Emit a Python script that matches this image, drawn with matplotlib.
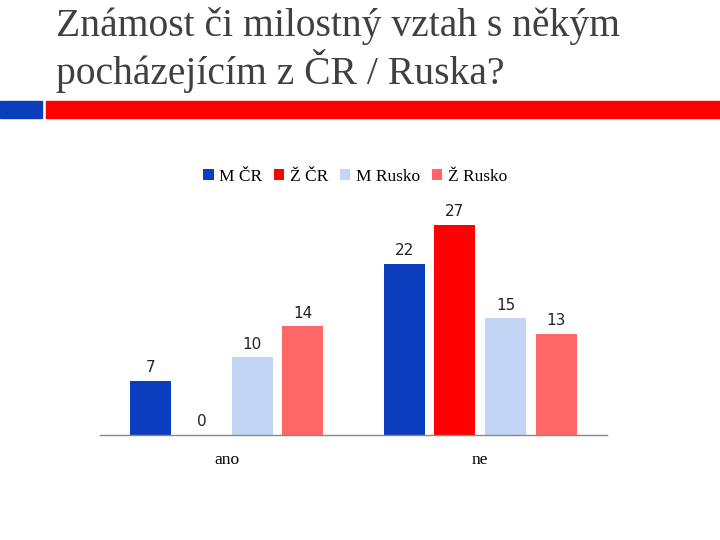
import numpy as np
import matplotlib
matplotlib.use("Agg")
import matplotlib.pyplot as plt
from matplotlib.patches import Rectangle

# data
categories = ["ano", "ne"]
series_names = ["M ČR", "Ž ČR", "M Rusko", "Ž Rusko"]
m_cr = [7, 22]
z_cr = [0, 27]
m_rusko = [10, 15]
z_rusko = [14, 13]
series_values = [m_cr, z_cr, m_rusko, z_rusko]
colors = ["#0B3EBF", "#FF0000", "#C3D5F5", "#FF6666"]

title = "Známost či milostný vztah s někým\npocházejícím z ČR / Ruska?"

W, H = 720, 540
fig = plt.figure(figsize=(W / 100, H / 100), dpi=100)

# title
fig.text(56 / W, 1 - 7 / H, title, ha="left", va="top", fontsize=28.5,
         family="Liberation Serif", color="#404040", linespacing=1.12)

# decorative stripe under the title
fig.patches.append(Rectangle((0, 1 - 118 / H), 42 / W, 17 / H,
                             transform=fig.transFigure, color="#0B3EBF", zorder=1))
fig.patches.append(Rectangle((46 / W, 1 - 118 / H), 1 - 46 / W, 17 / H,
                             transform=fig.transFigure, color="#FF0000", zorder=1))

# plot area: x 100..607 px, baseline at y=435 px
ax = fig.add_axes([100 / W, (H - 435) / H, 507 / W, 233.4 / H])
x = np.arange(len(categories))
step = 0.2
width = 0.162
for i, (name, vals, c) in enumerate(zip(series_names, series_values, colors)):
    pos = x + (i - 1.5) * step
    ax.bar(pos, vals, width, color=c, label=name)
    for p, v in zip(pos, vals):
        ax.annotate(str(v), (p, v), xytext=(0, 4), textcoords="offset points",
                    ha="center", va="bottom", fontsize=11, family="DejaVu Sans",
                    color="#222222")

ax.set_xlim(-0.5, 1.5)
ax.set_ylim(0, 30)
ax.set_xticks(x)
ax.set_xticklabels(categories, family="Liberation Serif", fontsize=12.5)
ax.tick_params(axis="x", length=0, pad=12)
ax.set_yticks([])
for s in ["top", "right", "left"]:
    ax.spines[s].set_visible(False)
ax.spines["bottom"].set_color("#888888")
ax.spines["bottom"].set_linewidth(1)

fig.legend(loc="center", bbox_to_anchor=(355 / W, 1 - 177 / H), ncol=4,
           frameon=False, handlelength=0.6, handleheight=0.6,
           handletextpad=0.3, columnspacing=0.7,
           prop={"family": "Liberation Serif", "size": 12.5})

fig.savefig("out.png", dpi=100)
